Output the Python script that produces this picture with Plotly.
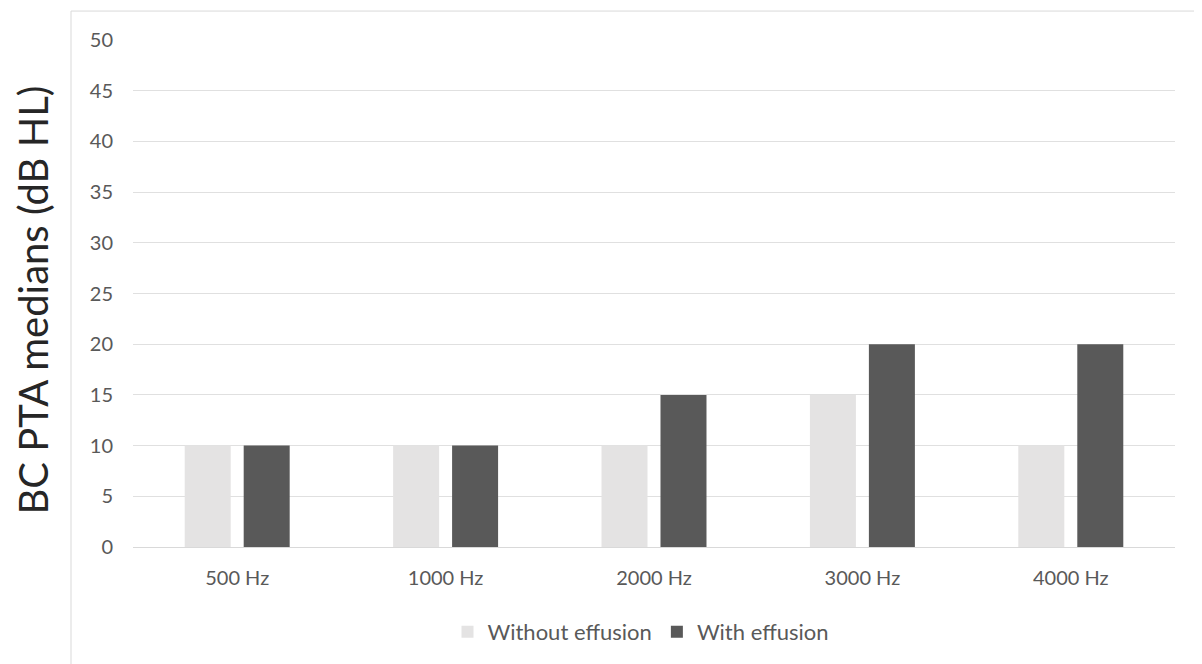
import plotly.graph_objects as go

categories = ["500 Hz", "1000 Hz", "2000 Hz", "3000 Hz", "4000 Hz"]
without_effusion = [10, 10, 10, 15, 10]
with_effusion = [10, 10, 15, 20, 20]
y_ticks = [0, 5, 10, 15, 20, 25, 30, 35, 40, 45, 50]

# page offset (body margin) of 8px
OFF = 8
W, H = 1202 - OFF, 664 - OFF
# plot area in page coords: x 133..1175, y 40..548
ml, mt = 133 - OFF, 40 - OFF
mr = W - (1175 - OFF)
mb = H - (548 - OFF)
pw, ph = W - ml - mr, H - mt - mb

def px(x):
    return (x - OFF - ml) / pw

def py(y):
    return (H - mb - (y - OFF)) / ph

fig = go.Figure()
fig.add_trace(go.Bar(name="Without effusion", x=categories, y=without_effusion,
                     marker=dict(color="#e4e3e3", line=dict(width=0))))
fig.add_trace(go.Bar(name="With effusion", x=categories, y=with_effusion,
                     marker=dict(color="#595959", line=dict(width=0))))

font_family = "Lato, Open Sans, sans-serif"
fig.update_layout(
    width=W, height=H,
    margin=dict(l=ml, r=mr, t=mt, b=mb, pad=0),
    paper_bgcolor="white", plot_bgcolor="white",
    barmode="group", bargap=0.434, bargroupgap=0.22,
    font=dict(family=font_family, color="#595959", size=20),
    showlegend=True,
    legend=dict(orientation="h", x=px(641), xanchor="center", y=py(632), yanchor="middle",
                font=dict(size=22, color="#595959"),
                traceorder="normal", itemwidth=30),
    xaxis=dict(showgrid=False, showline=True, linecolor="#d9d9d9", linewidth=1,
               ticks="", tickfont=dict(size=20, color="#595959"), ticklabelstandoff=13),
    yaxis=dict(range=[0, 50], tickvals=y_ticks, showgrid=True, gridcolor="#e0e0e0",
               gridwidth=1, zeroline=False, showline=False, ticks="",
               tickfont=dict(size=20, color="#595959"), ticklabelstandoff=19),
    annotations=[
        dict(text="BC PTA medians (dB HL)", xref="paper", yref="paper",
             x=px(33), y=py(301), xanchor="center", yanchor="middle",
             textangle=-90, showarrow=False,
             font=dict(size=40, color="#262626", family=font_family)),
    ],
    shapes=[
        dict(type="line", xref="paper", yref="paper", x0=px(71), x1=px(1210),
             y0=py(11), y1=py(11), line=dict(color="#d9d9d9", width=1)),
        dict(type="line", xref="paper", yref="paper", x0=px(71), x1=px(71),
             y0=py(11), y1=py(670), line=dict(color="#d9d9d9", width=1)),
    ],
)

fig.write_html("out.html")
